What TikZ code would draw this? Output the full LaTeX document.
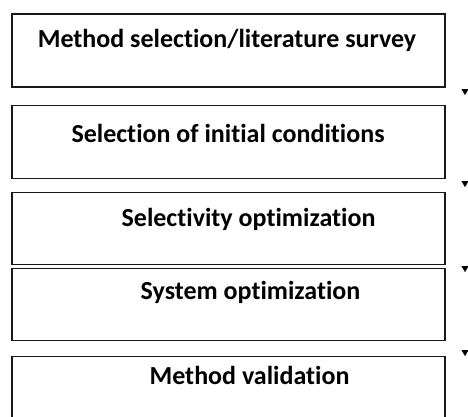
\documentclass[tikz,border=0pt]{standalone}
\usepackage{fontspec}
\setmainfont{Carlito}[Ligatures=NoCommon]
\usepackage{tikz}
\usetikzlibrary{arrows.meta,positioning}

\begin{document}
\begin{tikzpicture}[
        x=1pt, y=-1pt,
        node distance=15pt,
        stage/.style={rectangle, draw=black!90, line width=1.2pt, fill=white,
                      minimum width=433pt, minimum height=73pt, inner sep=0pt},
        stagetext/.style={anchor=base, font=\fontsize{26}{30}\selectfont\bfseries, inner sep=0pt},
        head/.style={draw, line width=0.3pt, -{Triangle[width=7pt,length=6pt]}}
    ]
        \useasboundingbox (0,0) rectangle (468,416);
        \node[stage] (survey) at (228.5,50.5) {};
        \node[stage, below=17pt of survey, minimum height=73pt] (initial)  {};
        \node[stage, below=13pt of initial, minimum height=72pt] (select)   {};
        \node[stage, below=3pt  of select,  minimum height=72pt] (system)   {};
        \node[stage, below=15pt of system,  minimum height=73pt] (valid)    {};
        \node[stagetext] (surveytxt)  at (227,47)   {Method selection/literature survey};
        \node[stagetext] (initialtxt) at (228,142)  {Selection of initial conditions};
        \node[stagetext] (selecttxt)  at (248.5,226) {Selectivity optimization};
        \node[stagetext] (systemtxt)  at (250.5,299) {System optimization};
        \node[stagetext] (validtxt)   at (249.5,384) {Method validation};
        % arrow heads at the right margin
        \coordinate (h1) at (465,89);  \coordinate (t1) at (465,95);
        \coordinate (h2) at (465,181); \coordinate (t2) at (465,187);
        \coordinate (h3) at (465,266); \coordinate (t3) at (465,272);
        \coordinate (h4) at (465,350); \coordinate (t4) at (465,356);
        \path[head] (h1) -- (t1);
        \path[head] (h2) -- (t2);
        \path[head] (h3) -- (t3);
        \path[head] (h4) -- (t4);
    \end{tikzpicture}
\end{document}
